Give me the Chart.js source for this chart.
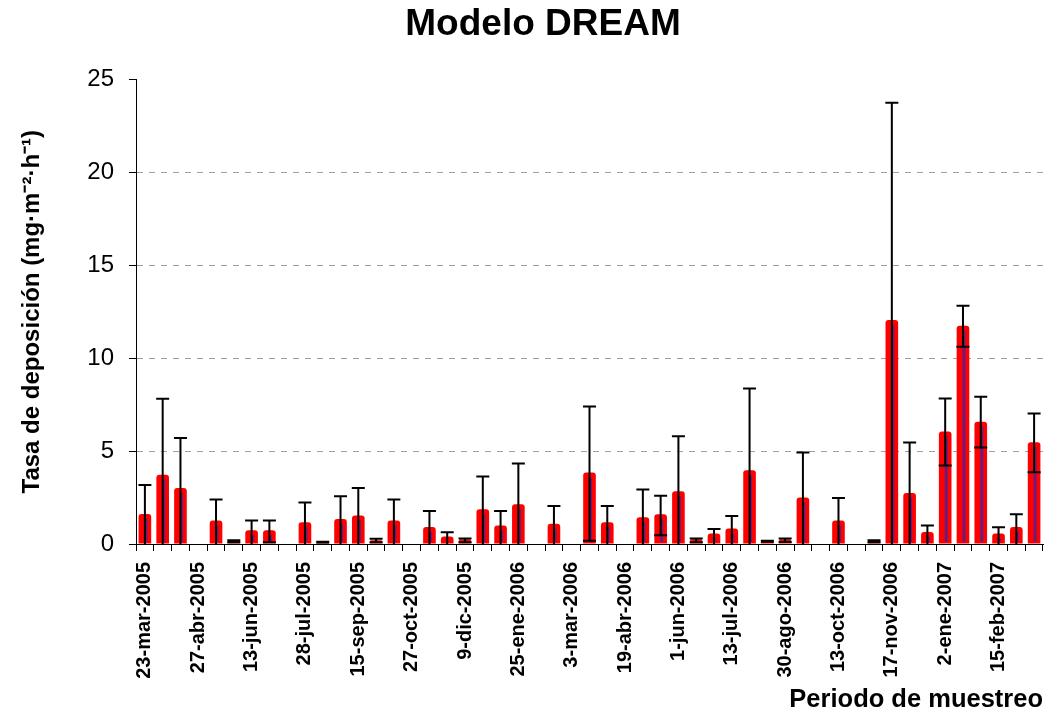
<!DOCTYPE html>
<html>
<head>
<meta charset="utf-8">
<script src="https://cdn.jsdelivr.net/npm/chart.js@4.4.0/dist/chart.umd.min.js"></script>
<style>
  body { margin: 0; background: #fff; }
</style>
</head>
<body>
<canvas id="chart" width="1060" height="716"></canvas>
<script>
// etiquetas visibles del eje X (una de cada tres muestras)
var tickLabels = ['23-mar-2005', '27-abr-2005', '13-jun-2005', '28-jul-2005', '15-sep-2005',
  '27-oct-2005', '9-dic-2005', '25-ene-2006', '3-mar-2006', '19-abr-2006', '1-jun-2006',
  '13-jul-2006', '30-ago-2006', '13-oct-2006', '17-nov-2006', '2-ene-2007', '15-feb-2007']

// tasa de deposicion (mg m-2 h-1), 51 periodos
var values = [1.62, 3.72, 3.02, 0, 1.26, 0.15, 0.74, 0.74, 0, 1.17,
  0.1, 1.35, 1.53, 0.2, 1.26, 0, 0.92, 0.41, 0.25, 1.87,
  1.0, 2.14, 0, 1.09, 0, 3.85, 1.17, 0, 1.44, 1.6,
  2.84, 0.25, 0.56, 0.83, 3.97, 0.15, 0.25, 2.5, 0, 1.27,
  0, 0.15, 12.05, 2.75, 0.65, 6.05, 11.75, 6.58, 0.56, 0.92,
  5.48]

// barra de error hacia arriba
var errUp = [1.56, 4.09, 2.69, 0, 1.13, 0.05, 0.52, 0.52, 0, 1.06,
  0.02, 1.22, 1.49, 0.08, 1.13, 0, 0.86, 0.22, 0.05, 1.76,
  0.78, 2.19, 0, 0.96, 0, 3.55, 0.88, 0, 1.49, 1.0,
  2.96, 0.05, 0.25, 0.68, 4.4, 0.03, 0.05, 2.42, 0, 1.2,
  0, 0.05, 11.7, 2.71, 0.34, 1.78, 1.07, 1.34, 0.34, 0.68,
  1.54]

// barra de error hacia abajo (cortada en cero)
var errDown = [1.62, 3.72, 3.02, 0, 1.26, 0.05, 0.74, 0.64, 0, 1.17,
  0.02, 1.35, 1.53, 0.1, 1.26, 0, 0.92, 0.41, 0.15, 1.87,
  1.0, 2.14, 0, 1.09, 0, 3.67, 1.17, 0, 1.44, 1.13,
  2.84, 0.16, 0.56, 0.83, 3.97, 0.03, 0.14, 2.5, 0, 1.27,
  0, 0.05, 12.05, 2.75, 0.65, 1.83, 1.14, 1.39, 0.56, 0.92,
  1.62]

var yTicks = [0, 5, 10, 15, 20, 25]

// categorias: etiqueta cada tres periodos
var categories = values.map(function (v, i) {
  return i % 3 === 0 ? tickLabels[i / 3] : ''
})

var errorBars = {
  id: 'errorBars',
  afterDatasetsDraw: function (chart) {
    var ctx = chart.ctx
    var y = chart.scales.y
    var meta = chart.getDatasetMeta(0)
    ctx.save()
    meta.data.forEach(function (bar, i) {
      var v = values[i]
      if (v <= 0) return
      var x = bar.x
      var base = y.getPixelForValue(0)
      var top = y.getPixelForValue(v)
      // franja oscura dentro de la barra
      if (base - top > 8) {
        ctx.fillStyle = '#6a1b7e'
        ctx.fillRect(x - 0.5, top + 5, 3, base - top - 7)
      }
      if (errUp[i] <= 0) return
      var hi = y.getPixelForValue(v + errUp[i])
      var loVal = Math.max(v - errDown[i], 0)
      var lo = y.getPixelForValue(loVal)
      ctx.strokeStyle = '#000'
      ctx.lineWidth = 2
      ctx.beginPath()
      ctx.moveTo(x, hi)
      ctx.lineTo(x, lo)
      ctx.moveTo(x - 6.5, hi)
      ctx.lineTo(x + 6.5, hi)
      if (loVal > 0) {
        ctx.moveTo(x - 6.5, lo)
        ctx.lineTo(x + 6.5, lo)
      }
      ctx.stroke()
    })
    ctx.restore()
  }
}

Chart.defaults.font.family = "'Liberation Sans', Arial, sans-serif"
Chart.defaults.color = '#000'

new Chart(document.getElementById('chart'), {
  type: 'bar',
  data: {
    labels: categories,
    datasets: [{
      label: 'Modelo DREAM',
      data: values,
      backgroundColor: '#ff0000',
      borderWidth: 0,
      borderRadius: 3,
      borderSkipped: 'bottom',
      barPercentage: 0.71,
      categoryPercentage: 1
    }]
  },
  options: {
    responsive: false,
    animation: false,
    layout: { padding: { left: 26, right: 0, top: 0, bottom: 0 } },
    plugins: {
      legend: { display: false },
      tooltip: { enabled: false },
      title: {
        display: true,
        text: 'Modelo DREAM',
        font: { size: 37, weight: 'bold' },
        color: '#000',
        padding: { top: 3, bottom: 32 }
      }
    },
    scales: {
      x: {
        offset: true,
        grid: {
          offset: true,
          drawOnChartArea: false,
          tickLength: 7,
          color: '#000'
        },
        border: { color: '#000', width: 1 },
        ticks: {
          autoSkip: false,
          minRotation: 90,
          maxRotation: 90,
          padding: 11,
          font: { size: 20, weight: 'bold' },
          color: '#000'
        },
        title: {
          display: true,
          text: 'Periodo de muestreo',
          align: 'end',
          font: { size: 25.5, weight: 'bold' },
          padding: { top: 0, bottom: 1 }
        },
        afterFit: function (scale) {
          scale.height = 172
          scale.paddingLeft = 0
          scale.paddingRight = 0
        }
      },
      y: {
        min: 0,
        max: 25,
        afterBuildTicks: function (scale) {
          scale.ticks = yTicks.map(function (v) { return { value: v } })
        },
        grid: {
          tickLength: 7,
          tickColor: '#000',
          color: function (c) {
            var v = c.tick ? c.tick.value : 0
            return (v === 0 || v === 25) ? 'rgba(0,0,0,0)' : '#a0a0a0'
          },
          lineWidth: 1
        },
        border: { color: '#000', width: 1, dash: [6, 6] },
        ticks: {
          padding: 15,
          font: { size: 24 },
          color: '#000'
        },
        title: {
          display: true,
          text: 'Tasa de deposición (mg·m⁻²·h⁻¹)',
          font: { size: 24, weight: 'bold', lineHeight: 0.5 },
          padding: { top: 0, bottom: 0 }
        },
        afterFit: function (scale) { scale.width = 110 }
      },
      y2: {
        position: 'right',
        display: true,
        grid: { display: false, drawTicks: false },
        border: { display: false },
        ticks: { display: false },
        afterFit: function (scale) { scale.width = 17 }
      }
    }
  },
  plugins: [errorBars]
})
</script>
</body>
</html>
